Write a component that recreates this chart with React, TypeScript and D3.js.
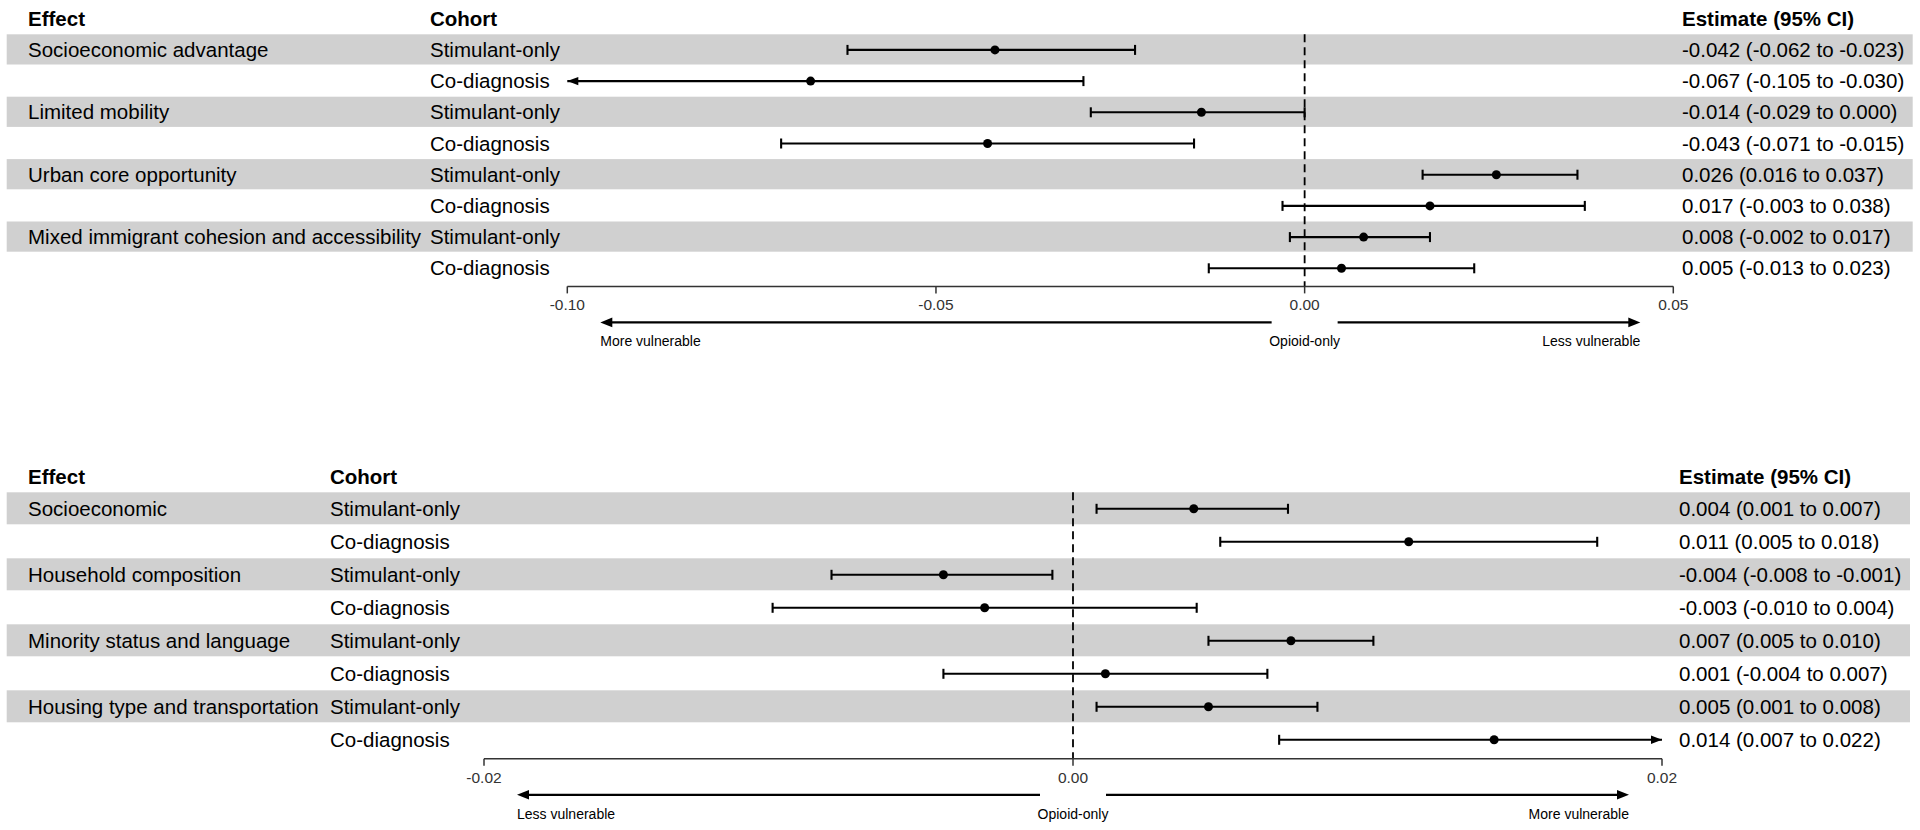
import React from "react";
import * as d3 from "d3";

// ---------- DATA ----------
const cohorts = ["Stimulant-only", "Co-diagnosis"];

const effectsTop = [
  "Socioeconomic advantage",
  "Limited mobility",
  "Urban core opportunity",
  "Mixed immigrant cohesion and accessibility",
];
const estTop = [-0.042, -0.067, -0.014, -0.043, 0.026, 0.017, 0.008, 0.005];
const lowTop = [-0.062, -0.105, -0.029, -0.071, 0.016, -0.003, -0.002, -0.013];
const highTop = [-0.023, -0.03, 0.0, -0.015, 0.037, 0.038, 0.017, 0.023];
const ticksTop = [-0.1, -0.05, 0.0, 0.05];
const tickLabelsTop = ["-0.10", "-0.05", "0.00", "0.05"];
const arrowLabelsTop = ["More vulnerable", "Less vulnerable"];

const effectsBottom = [
  "Socioeconomic",
  "Household composition",
  "Minority status and language",
  "Housing type and transportation",
];
const estBottom = [0.0041, 0.0114, -0.0044, -0.003, 0.0074, 0.0011, 0.0046, 0.0143];
const lowBottom = [0.0008, 0.005, -0.0082, -0.0102, 0.0046, -0.0044, 0.0008, 0.007];
const highBottom = [0.0073, 0.0178, -0.0007, 0.0042, 0.0102, 0.0066, 0.0083, 0.022];
const ticksBottom = [-0.02, 0.0, 0.02];
const tickLabelsBottom = ["-0.02", "0.00", "0.02"];
const arrowLabelsBottom = ["Less vulnerable", "More vulnerable"];

const refLabel = "Opioid-only";
const headers = ["Effect", "Cohort", "Estimate (95% CI)"];

// ---------- HELPERS ----------
const FONT = "'Liberation Sans', Arial, Helvetica, sans-serif";
const FS = 20.5;
const fmt = (v: number) => (v < 0 ? "-" : "") + Math.abs(v).toFixed(3);

type PanelProps = {
  effects: string[];
  est: number[];
  low: number[];
  high: number[];
  ticks: number[];
  tickLabels: string[];
  arrowLabels: string[];
  bandTop: number;
  pitch: number;
  cohX: number;
  estX: number;
  range: [number, number];
  bandRight: number;
};

function Panel(p: PanelProps) {
  const domain = d3.extent(p.ticks) as [number, number];
  const x = d3.scaleLinear().domain(domain).range(p.range);
  const n = p.est.length;
  const rowTop = (i: number) => p.bandTop + i * p.pitch;
  const rowMid = (i: number) => rowTop(i) + p.pitch / 2;
  const rowsBottom = rowTop(n);
  const axisY = rowsBottom + 2.5;
  const effX = 28;
  const bandLeft = 6.7;
  const capH = 5;
  const sw = 2.1;
  const x0 = x(0);
  const arrowY = axisY + 36;
  const arrowOff = 33;

  const arrowHead = (tipX: number, y: number, dir: number, len = 11, half = 4.2) =>
    `M${tipX},${y} L${tipX - dir * len},${y - half} L${tipX - dir * len},${y + half} Z`;

  return (
    <g>
      {/* bands */}
      {d3.range(n).map((i) =>
        i % 2 === 0 ? (
          <rect
            key={"b" + i}
            x={bandLeft}
            y={rowTop(i)}
            width={p.bandRight - bandLeft}
            height={p.pitch - 1}
            fill="#d0d0d0"
          />
        ) : null
      )}
      {/* headers */}
      <g fontFamily={FONT} fontSize={FS} fontWeight="bold" fill="#000">
        <text x={effX} y={p.bandTop - 8}>{headers[0]}</text>
        <text x={p.cohX} y={p.bandTop - 8}>{headers[1]}</text>
        <text x={p.estX} y={p.bandTop - 8}>{headers[2]}</text>
      </g>
      {/* row text */}
      <g fontFamily={FONT} fontSize={FS} fill="#000">
        {d3.range(n).map((i) => (
          <g key={"t" + i}>
            {i % 2 === 0 && (
              <text x={effX} y={rowMid(i) + 7}>{p.effects[i / 2]}</text>
            )}
            <text x={p.cohX} y={rowMid(i) + 7}>{cohorts[i % 2]}</text>
            <text x={p.estX} y={rowMid(i) + 7}>
              {`${fmt(p.est[i])} (${fmt(p.low[i])} to ${fmt(p.high[i])})`}
            </text>
          </g>
        ))}
      </g>
      {/* reference line */}
      <line
        x1={x0}
        x2={x0}
        y1={p.bandTop}
        y2={axisY}
        stroke="#000"
        strokeWidth={1.8}
        strokeDasharray="8,5"
      />
      {/* CIs */}
      {d3.range(n).map((i) => {
        const y = rowMid(i);
        const lo = Math.max(p.low[i], domain[0]);
        const hi = Math.min(p.high[i], domain[1]);
        const loClip = p.low[i] < domain[0];
        const hiClip = p.high[i] > domain[1];
        return (
          <g key={"ci" + i}>
            <line x1={x(lo)} x2={x(hi)} y1={y} y2={y} stroke="#000" strokeWidth={sw} />
            {loClip ? (
              <path d={arrowHead(x(lo), y, -1)} fill="#000" />
            ) : (
              <line x1={x(lo)} x2={x(lo)} y1={y - capH} y2={y + capH} stroke="#000" strokeWidth={sw} />
            )}
            {hiClip ? (
              <path d={arrowHead(x(hi), y, 1)} fill="#000" />
            ) : (
              <line x1={x(hi)} x2={x(hi)} y1={y - capH} y2={y + capH} stroke="#000" strokeWidth={sw} />
            )}
            <circle cx={x(p.est[i])} cy={y} r={4.5} fill="#000" />
          </g>
        );
      })}
      {/* axis */}
      <line x1={x(domain[0])} x2={x(domain[1])} y1={axisY} y2={axisY} stroke="#333" strokeWidth={1.5} />
      {p.ticks.map((t, k) => (
        <g key={"tk" + k}>
          <line x1={x(t)} x2={x(t)} y1={axisY} y2={axisY + 7} stroke="#333" strokeWidth={1.5} />
          <text
            x={x(t)}
            y={axisY + 24}
            textAnchor="middle"
            fontFamily={FONT}
            fontSize={15.5}
            fill="#333"
          >
            {p.tickLabels[k]}
          </text>
        </g>
      ))}
      {/* direction arrows */}
      <line x1={x0 - arrowOff} x2={x(domain[0]) + arrowOff + 6} y1={arrowY} y2={arrowY} stroke="#000" strokeWidth={2.2} />
      <path d={arrowHead(x(domain[0]) + arrowOff, arrowY, -1, 12, 4.8)} fill="#000" />
      <line x1={x0 + arrowOff} x2={x(domain[1]) - arrowOff - 6} y1={arrowY} y2={arrowY} stroke="#000" strokeWidth={2.2} />
      <path d={arrowHead(x(domain[1]) - arrowOff, arrowY, 1, 12, 4.8)} fill="#000" />
      <g fontFamily={FONT} fontSize={14} fill="#000">
        <text x={x(domain[0]) + arrowOff} y={arrowY + 24}>{p.arrowLabels[0]}</text>
        <text x={x0} y={arrowY + 24} textAnchor="middle">{refLabel}</text>
        <text x={x(domain[1]) - arrowOff} y={arrowY + 24} textAnchor="end">{p.arrowLabels[1]}</text>
      </g>
    </g>
  );
}

export default function App() {
  return (
    <svg
      width={1920}
      height={830}
      style={{ position: "absolute", left: 0, top: 0, display: "block", background: "#fff" }}
    >
      <rect x={0} y={0} width={1920} height={830} fill="#fff" />
      <Panel
        effects={effectsTop}
        est={estTop}
        low={lowTop}
        high={highTop}
        ticks={ticksTop}
        tickLabels={tickLabelsTop}
        arrowLabels={arrowLabelsTop}
        bandTop={34.3}
        pitch={31.2}
        cohX={430}
        estX={1682}
        range={[567.3, 1673.3]}
        bandRight={1912.7}
      />
      <Panel
        effects={effectsBottom}
        est={estBottom}
        low={lowBottom}
        high={highBottom}
        ticks={ticksBottom}
        tickLabels={tickLabelsBottom}
        arrowLabels={arrowLabelsBottom}
        bandTop={492.3}
        pitch={33}
        cohX={330}
        estX={1679}
        range={[484, 1662]}
        bandRight={1910}
      />
    </svg>
  );
}
